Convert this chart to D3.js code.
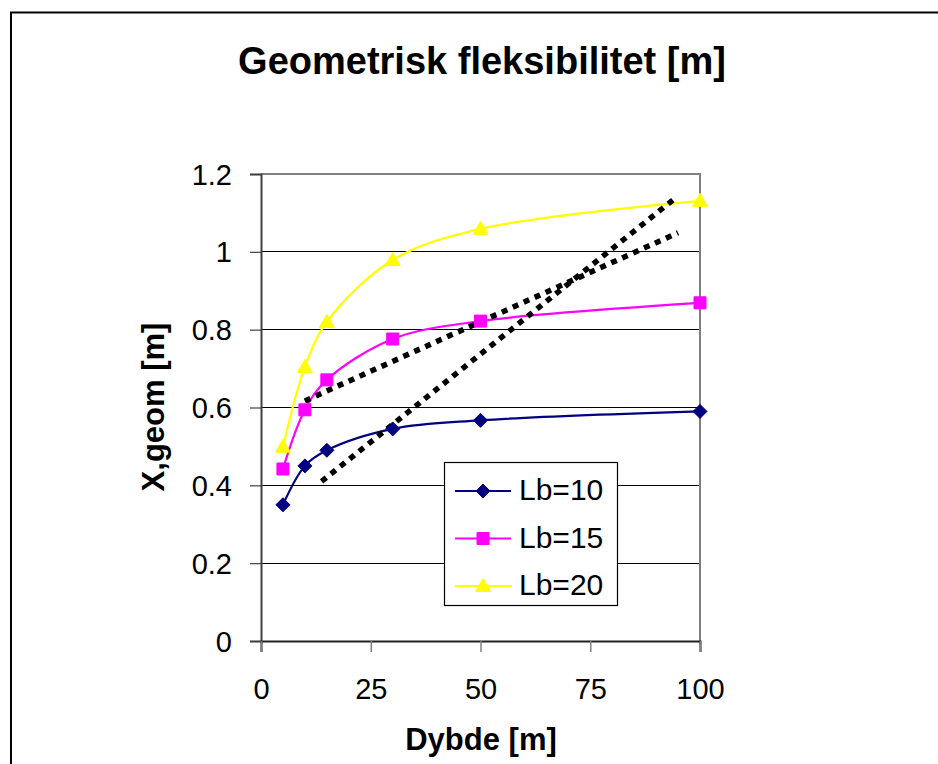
<!DOCTYPE html>
<html>
<head>
<meta charset="utf-8">
<script src="https://cdn.jsdelivr.net/npm/d3@7"></script>
<style>
  html, body { margin: 0; padding: 0; background: #fff; }
  svg { display: block; }
  text { font-family: "Liberation Sans", Arial, sans-serif; fill: #000; }
</style>
</head>
<body>
<svg id="chart" width="938" height="764"></svg>
<script>
// ---- Data ----
const depths = [5, 10, 15, 30, 50, 100];
const lb10 = [0.35, 0.45, 0.49, 0.545, 0.567, 0.59];
const lb15 = [0.442, 0.594, 0.671, 0.776, 0.822, 0.869];
const lb20 = [0.499, 0.704, 0.82, 0.979, 1.059, 1.131];
const seriesNames = ["Lb=10", "Lb=15", "Lb=20"];
const trendSteep = [[13.8, 0.41], [94.5, 1.139]];
const trendShallow = [[10, 0.617], [95, 1.049]];
const xTicks = [0, 25, 50, 75, 100];
const yTicks = [0, 0.2, 0.4, 0.6, 0.8, 1, 1.2];
const titleText = "Geometrisk fleksibilitet [m]";
const xTitle = "Dybde [m]";
const yTitle = "X,geom [m]";

const svg = d3.select("#chart");

// outer chart border (extends past the window on right/bottom)
svg.append("rect").attr("x", 11).attr("y", 12.5).attr("width", 1000).attr("height", 900)
  .attr("fill", "#fff").attr("stroke", "#000").attr("stroke-width", 2);

const x = d3.scaleLinear().domain([0, 100]).range([261, 700]);
const y = d3.scaleLinear().domain([0, 1.2]).range([641, 174]);

// gridlines
svg.append("g").selectAll("line").data(yTicks.filter(v => v > 0 && v < 1.2)).join("line")
  .attr("x1", x(0)).attr("x2", x(100)).attr("y1", d => y(d)).attr("y2", d => y(d))
  .attr("stroke", "#000").attr("stroke-width", 1).attr("shape-rendering", "crispEdges");

// top and right plot border (gray)
svg.append("path")
  .attr("d", `M${x(0)},${y(1.2)}H${x(100)}V${y(0)}`)
  .attr("fill", "none").attr("stroke", "#808080").attr("stroke-width", 2);

// y axis
const yAxis = d3.axisLeft(y).tickValues(yTicks).tickSize(11).tickPadding(18)
  .tickFormat(d => d3.format("")(+d.toFixed(1)));
const gy = svg.append("g").attr("transform", `translate(${x(0)},0)`).call(yAxis);
gy.select(".domain").attr("stroke", "#404040").attr("stroke-width", 2);
gy.selectAll(".tick line").attr("stroke", "#404040").attr("stroke-width", 1.2);
gy.selectAll(".tick text").attr("font-size", 29).attr("dy", "0.35em")
  .style("font-family", "'Liberation Sans', Arial, sans-serif").attr("fill", "#000");

// x axis
const xAxis = d3.axisBottom(x).tickValues(xTicks).tickSize(11).tickPadding(26);
const gx = svg.append("g").attr("transform", `translate(0,${y(0)})`).call(xAxis);
gx.select(".domain").attr("stroke", "#202020").attr("stroke-width", 2);
gx.selectAll(".tick line").attr("stroke", "#808080").attr("stroke-width", 1.5);
gx.selectAll(".tick text").attr("font-size", 29).attr("dy", "0.71em")
  .style("font-family", "'Liberation Sans', Arial, sans-serif").attr("fill", "#000");

// titles
svg.append("text").attr("x", 482).attr("y", 74).attr("text-anchor", "middle")
  .attr("font-size", 38).attr("font-weight", "bold").text(titleText);
svg.append("text").attr("x", 481).attr("y", 750).attr("text-anchor", "middle")
  .attr("font-size", 31).attr("font-weight", "bold").text(xTitle);
svg.append("text").attr("transform", "translate(164,407) rotate(-90)").attr("text-anchor", "middle")
  .attr("font-size", 31).attr("font-weight", "bold").text(yTitle);

// markers
function markerPath(type, cx, cy) {
  if (type === "diamond") return `M${cx},${cy-7}L${cx+7},${cy}L${cx},${cy+7}L${cx-7},${cy}Z`;
  if (type === "square") return `M${cx-6},${cy-6}H${cx+6}V${cy+6}H${cx-6}Z`;
  return `M${cx},${cy-7.5}L${cx+7.5},${cy+5.5}L${cx-7.5},${cy+5.5}Z`;
}

const series = [
  { name: seriesNames[0], vals: lb10, color: "#000080", marker: "diamond" },
  { name: seriesNames[1], vals: lb15, color: "#FF00FF", marker: "square" },
  { name: seriesNames[2], vals: lb20, color: "#FFFF00", marker: "triangle" }
];

const line = d3.line().x(d => x(d[0])).y(d => y(d[1])).curve(d3.curveCatmullRom.alpha(0.5));

series.forEach(s => {
  const pts = depths.map((d, i) => [d, s.vals[i]]);
  svg.append("path").attr("d", line(pts)).attr("fill", "none")
    .attr("stroke", s.color).attr("stroke-width", 2.2);
});

// trend lines (dotted)
const tl = d3.line().x(d => x(d[0])).y(d => y(d[1]));
[trendShallow, trendSteep].forEach(t => {
  svg.append("path").attr("d", tl(t)).attr("fill", "none")
    .attr("stroke", "#000").attr("stroke-width", 5.5).attr("stroke-dasharray", "6,6");
});

series.forEach(s => {
  svg.append("g").selectAll("path").data(depths.map((d, i) => [d, s.vals[i]])).join("path")
    .attr("d", d => markerPath(s.marker, x(d[0]), y(d[1])))
    .attr("fill", s.color).attr("stroke", s.color).attr("stroke-width", 1);
});

// legend
const lg = svg.append("g");
lg.append("rect").attr("x", 444.5).attr("y", 462.5).attr("width", 173).attr("height", 143)
  .attr("fill", "#fff").attr("stroke", "#000").attr("stroke-width", 1.2);
const legY = [491, 538.5, 586];
series.forEach((s, i) => {
  lg.append("line").attr("x1", 455).attr("x2", 511).attr("y1", legY[i]).attr("y2", legY[i])
    .attr("stroke", s.color).attr("stroke-width", 2);
  lg.append("path").attr("d", markerPath(s.marker, 483, legY[i]))
    .attr("fill", s.color).attr("stroke", s.color).attr("stroke-width", 1);
  lg.append("text").attr("x", 519).attr("y", legY[i] + 9).attr("font-size", 30).text(s.name);
});
</script>
</body>
</html>
